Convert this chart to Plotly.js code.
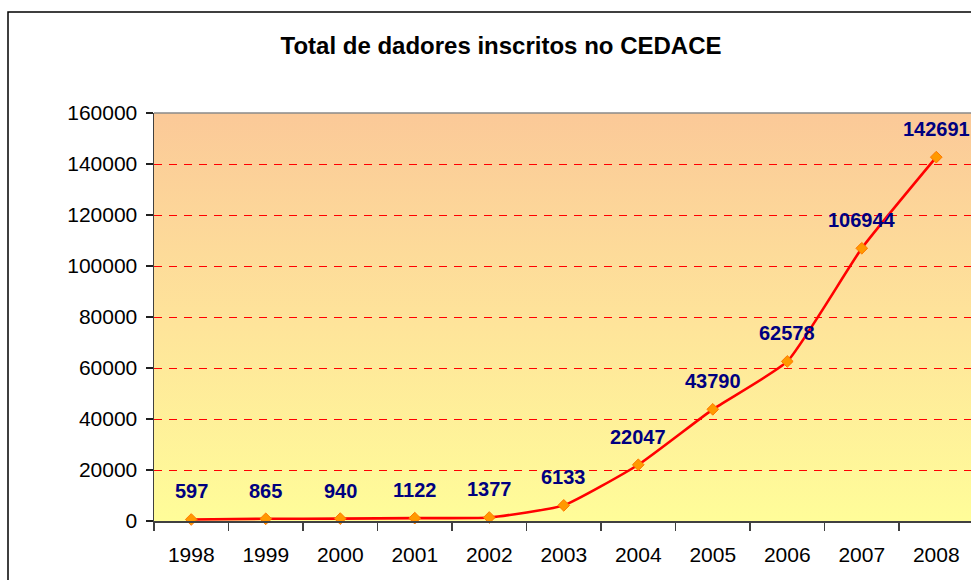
<!DOCTYPE html>
<html>
<head>
<meta charset="utf-8">
<script src="https://cdn.plot.ly/plotly-3.0.1.min.js"></script>
<style>
html,body{margin:0;padding:0;background:#fff;}
#chart{width:971px;height:580px;}
</style>
</head>
<body>
<div id="chart"></div>
<script>
const years = ['1998','1999','2000','2001','2002','2003','2004','2005','2006','2007','2008'];
const donors = [597, 865, 940, 1122, 1377, 6133, 22047, 43790, 62578, 106944, 142691];
const yTicks = [0, 20000, 40000, 60000, 80000, 100000, 120000, 140000, 160000];
const chartTitle = 'Total de dadores inscritos no CEDACE';

const gradSvg = '<svg xmlns="http://www.w3.org/2000/svg" width="100" height="100" preserveAspectRatio="none">' +
  '<defs><linearGradient id="g" x1="0" y1="0" x2="0" y2="1">' +
  '<stop offset="0" stop-color="#FBC998"/>' +
  '<stop offset="0.5" stop-color="#FEE39A"/>' +
  '<stop offset="1" stop-color="#FFFD99"/>' +
  '</linearGradient></defs><rect width="100" height="100" fill="url(#g)"/></svg>';
const gradUri = 'data:image/svg+xml;charset=utf-8,' + encodeURIComponent(gradSvg);

const trace = {
  type: 'scatter',
  mode: 'lines+markers',
  x: years,
  y: donors,
  line: {color: '#FF0000', width: 2.6, shape: 'spline', smoothing: 0.45},
  marker: {symbol: 'diamond', size: 9, color: '#FF9900', line: {color: '#FF7700', width: 1}},
  hoverinfo: 'x+y',
  cliponaxis: false
};

const annotations = years.map((yr, i) => ({
  x: i, y: donors[i], xref: 'x', yref: 'y',
  text: '<b>' + String(donors[i]) + '</b>',
  showarrow: false,
  yshift: 28,
  xanchor: 'center', yanchor: 'middle',
  font: {family: 'Liberation Sans, Arial, sans-serif', size: 20, color: '#000080'}
}));

const layout = {
  width: 971, height: 580,
  margin: {l: 154, r: 0, t: 113, b: 59},
  paper_bgcolor: '#FFFFFF',
  plot_bgcolor: 'rgba(0,0,0,0)',
  showlegend: false,
  font: {family: 'Liberation Sans, Arial, sans-serif', color: '#000'},
  title: {
    text: '<b>' + chartTitle + '</b>',
    font: {family: 'Liberation Sans, Arial, sans-serif', size: 24, color: '#000'},
    xref: 'container', yref: 'container',
    x: 501/971, y: 1 - 46/580, xanchor: 'center', yanchor: 'middle'
  },
  xaxis: {
    type: 'category',
    range: [-0.5, 10.466],
    tickson: 'boundaries',
    ticks: 'outside', ticklen: 8, tickcolor: '#404040', tickwidth: 1.3,
    showline: true, linecolor: '#404040', linewidth: 1.5,
    showgrid: false, zeroline: false,
    tickfont: {size: 21, color: '#000'},
    ticklabelstandoff: 14,
    fixedrange: true
  },
  yaxis: {
    range: [0, 160000],
    tickvals: yTicks,
    ticktext: yTicks.map(String),
    ticks: 'outside', ticklen: 7, tickcolor: '#202020', tickwidth: 1.3,
    showline: true, linecolor: '#404040', linewidth: 1.5,
    showgrid: true, gridcolor: '#FF0000', gridwidth: 1, griddash: '8px,7px',
    zeroline: false,
    tickfont: {size: 21, color: '#000'},
    ticklabelstandoff: 4,
    fixedrange: true
  },
  images: [{
    source: gradUri, xref: 'paper', yref: 'paper',
    x: 0, y: 1, sizex: 1, sizey: 1, xanchor: 'left', yanchor: 'top',
    sizing: 'stretch', layer: 'below'
  }],
  shapes: [
    {type: 'line', xref: 'paper', yref: 'paper', x0: 0, x1: 1, y0: 1, y1: 1,
     line: {color: '#8A8A8A', width: 1.5}, layer: 'above'},
    {type: 'rect', xref: 'paper', yref: 'paper',
     x0: (8 - 154) / 817, x1: 1.1, y0: -0.2, y1: (521 - 12) / 408,
     line: {color: '#000', width: 1.5}, fillcolor: 'rgba(0,0,0,0)', layer: 'above'}
  ],
  annotations: annotations
};

Plotly.newPlot('chart', [trace], layout, {displayModeBar: false, staticPlot: true});
</script>
</body>
</html>
